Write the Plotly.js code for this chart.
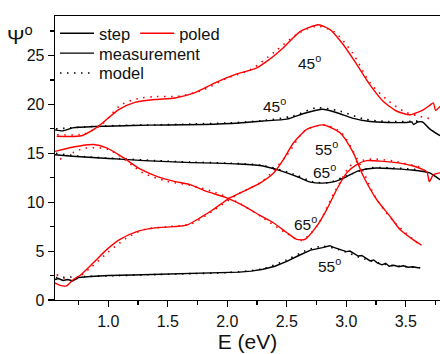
<!DOCTYPE html>
<html>
<head>
<meta charset="utf-8">
<script src="https://cdn.plot.ly/plotly-3.0.1.min.js"></script>
<style>
  html, body { margin: 0; padding: 0; background: #fff; }
  #chart { width: 440px; height: 354px; }
</style>
</head>
<body>
<div id="chart"></div>
<script>
// Ellipsometric angle Psi vs photon energy, step vs poled sample, three incidence angles

// --- step sample, measured ---
const stepE45 = [0.552, 0.62, 0.70, 0.90, 1.20, 1.50, 1.80, 2.10, 2.30, 2.50, 2.65, 2.80, 2.92, 3.05, 3.20, 3.35, 3.50, 3.55, 3.565, 3.60, 3.64, 3.70, 3.787];
const stepPsi45 = [17.4, 17.3, 17.6, 17.75, 17.85, 17.9, 17.95, 18.1, 18.3, 18.5, 19.1, 19.5, 19.15, 18.6, 18.25, 18.15, 18.15, 18.2, 17.95, 18.2, 18.2, 17.5, 16.8];

const stepE65 = [0.552, 0.70, 0.90, 1.10, 1.30, 1.50, 1.70, 1.90, 2.10, 2.30, 2.45, 2.60, 2.70, 2.80, 2.90, 3.00, 3.10, 3.25, 3.40, 3.55, 3.70, 3.787];
const stepPsi65 = [14.85, 14.7, 14.55, 14.4, 14.25, 14.15, 14.05, 14.0, 13.9, 13.7, 13.2, 12.55, 12.05, 11.95, 12.1, 12.6, 13.2, 13.5, 13.42, 13.3, 13.0, 12.3];

const stepE55 = [0.552, 0.58, 0.62, 0.66, 0.70, 0.75, 0.85, 1.00, 1.20, 1.40, 1.60, 1.80, 2.00, 2.10, 2.20, 2.30, 2.40, 2.50, 2.60, 2.70, 2.80, 2.86, 2.90, 2.95, 3.00, 3.03, 3.06, 3.10, 3.13, 3.16, 3.20, 3.23, 3.26, 3.30, 3.33, 3.36, 3.40, 3.44, 3.48, 3.52, 3.56, 3.60, 3.62];
const stepPsi55 = [2.1, 2.2, 2.0, 2.1, 1.95, 2.3, 2.4, 2.5, 2.55, 2.6, 2.65, 2.72, 2.78, 2.85, 2.95, 3.15, 3.45, 3.95, 4.55, 5.1, 5.35, 5.55, 5.35, 5.15, 4.95, 5.0, 4.75, 4.5, 4.55, 4.3, 4.0, 4.1, 3.8, 3.6, 3.75, 3.45, 3.55, 3.4, 3.5, 3.35, 3.4, 3.3, 3.3];

// --- poled sample, measured ---
const poledE45 = [0.566, 0.776, 0.916, 1.084, 1.224, 1.392, 1.560, 1.728, 1.896, 2.064, 2.233, 2.331, 2.471, 2.611, 2.765, 2.863, 2.975, 3.087, 3.199, 3.311, 3.424, 3.535, 3.647, 3.70, 3.731, 3.75, 3.787];
const poledPsi45 = [16.75, 16.8, 17.75, 19.45, 20.2, 20.5, 20.65, 21.2, 22.2, 23.05, 23.65, 24.4, 25.8, 27.45, 28.15, 27.65, 26.1, 24.1, 22.0, 20.3, 19.3, 18.95, 19.45, 19.9, 20.15, 19.4, 19.8];

const poledE55 = [0.552, 0.594, 0.650, 0.706, 0.762, 0.874, 0.986, 1.098, 1.239, 1.378, 1.546, 1.659, 1.770, 1.882, 2.008, 2.134, 2.275, 2.387, 2.471, 2.555, 2.667, 2.807, 2.947, 3.059, 3.143, 3.256, 3.367, 3.451, 3.563, 3.633];
const poledPsi55 = [1.75, 1.5, 1.45, 2.1, 2.5, 3.8, 5.15, 6.2, 7.0, 7.35, 7.5, 7.65, 8.4, 9.25, 10.35, 11.1, 11.95, 12.95, 14.35, 16.05, 17.45, 17.9, 17.1, 15.05, 12.65, 10.25, 8.55, 7.2, 6.15, 5.6];

const poledE65 = [0.552, 0.706, 0.874, 0.986, 1.126, 1.266, 1.407, 1.546, 1.686, 1.827, 1.995, 2.134, 2.275, 2.387, 2.499, 2.583, 2.653, 2.751, 2.835, 2.919, 3.003, 3.087, 3.171, 3.283, 3.451, 3.563, 3.676, 3.697, 3.731, 3.787];
const poledPsi65 = [15.2, 15.65, 15.9, 15.55, 14.55, 13.4, 12.65, 12.15, 11.8, 11.1, 10.45, 9.65, 8.65, 7.9, 6.9, 6.2, 6.2, 7.55, 9.25, 11.3, 13.0, 13.85, 14.25, 14.2, 14.0, 13.7, 13.1, 12.1, 12.8, 13.0];

// --- model fits ---
const modelStepE45 = [0.56, 0.80, 1.10, 1.40, 1.70, 2.00, 2.30, 2.55, 2.75, 2.95, 3.15, 3.35, 3.62];
const modelStepPsi45 = [17.5, 17.7, 17.85, 17.9, 18.0, 18.1, 18.35, 18.8, 19.65, 19.3, 18.5, 18.25, 18.3];

const modelStepE65 = [0.56, 0.80, 1.10, 1.40, 1.70, 2.00, 2.30, 2.55, 2.72, 2.85, 3.00, 3.20, 3.40, 3.62];
const modelStepPsi65 = [15.0, 14.65, 14.45, 14.25, 14.1, 14.0, 13.75, 12.9, 12.1, 12.0, 12.7, 13.5, 13.5, 13.3];

const modelStepE55 = [0.56, 0.80, 1.10, 1.40, 1.70, 2.00, 2.30, 2.50, 2.65, 2.80, 2.95, 3.15, 3.35, 3.62];
const modelStepPsi55 = [2.3, 2.4, 2.5, 2.6, 2.7, 2.8, 3.2, 4.1, 5.0, 5.5, 5.1, 4.2, 3.6, 3.3];

const modelPoledE45 = [0.57, 0.80, 0.95, 1.10, 1.25, 1.40, 1.60, 1.80, 2.00, 2.20, 2.40, 2.60, 2.75, 2.90, 3.05, 3.20, 3.35, 3.50, 3.72];
const modelPoledPsi45 = [16.9, 17.0, 18.0, 19.9, 20.6, 20.8, 20.85, 21.5, 22.7, 23.6, 25.4, 27.3, 28.0, 27.4, 25.3, 22.2, 20.4, 19.2, 18.5];

const modelPoledE55 = [0.566, 0.70, 0.85, 1.00, 1.15, 1.30, 1.50, 1.70, 1.90, 2.10, 2.30, 2.50, 2.65, 2.80, 2.95, 3.10, 3.25, 3.40, 3.62];
const modelPoledPsi55 = [2.6, 2.0, 3.3, 4.9, 6.3, 7.2, 7.5, 7.8, 9.3, 10.9, 12.2, 14.8, 17.3, 17.9, 17.2, 14.2, 10.4, 8.0, 5.6];

const modelPoledE65 = [0.594, 0.80, 1.00, 1.21, 1.29, 1.49, 1.70, 1.90, 2.10, 2.30, 2.50, 2.62, 2.75, 2.90, 3.05, 3.20, 3.40, 3.62];
const modelPoledPsi65 = [14.4, 15.5, 15.4, 13.7, 13.0, 12.15, 11.7, 11.0, 9.9, 8.4, 6.8, 6.1, 7.5, 11.0, 13.9, 14.4, 14.2, 13.6];

// angle labels
const labelText = ['45<sup>o</sup>', '45<sup>o</sup>', '55<sup>o</sup>', '65<sup>o</sup>', '65<sup>o</sup>', '55<sup>o</sup>'];
const labelE = [2.69, 2.40, 2.83, 2.82, 2.66, 2.86];
const labelPsi = [24.3, 19.9, 15.5, 13.2, 7.9, 3.6];

const BLACK = '#000000';
const RED = '#ff0000';
const DOT = '1.5px,5.5px';

function meas(x, y, color, extra) {
  return Object.assign({
    x: x, y: y, type: 'scatter', mode: 'lines',
    line: {color: color, width: 1.4, shape: 'spline', smoothing: 0.6},
    showlegend: false, hoverinfo: 'skip'
  }, extra || {});
}
function model(x, y, color, extra) {
  return Object.assign({
    x: x, y: y, type: 'scatter', mode: 'lines',
    line: {color: color, width: 1.6, dash: DOT, shape: 'spline', smoothing: 0.8},
    showlegend: false, hoverinfo: 'skip'
  }, extra || {});
}

const traces = [
  model(modelStepE45, modelStepPsi45, BLACK, {name: 'model', showlegend: true, legend: 'legend3'}),
  model(modelStepE65, modelStepPsi65, BLACK),
  model(modelStepE55, modelStepPsi55, BLACK),
  model(modelPoledE45, modelPoledPsi45, RED),
  model(modelPoledE55, modelPoledPsi55, RED),
  model(modelPoledE65, modelPoledPsi65, RED),
  meas(stepE45, stepPsi45, BLACK, {name: 'step', showlegend: true, legend: 'legend'}),
  meas(stepE65, stepPsi65, BLACK, {name: 'measurement', showlegend: true, legend: 'legend2'}),
  meas(stepE55, stepPsi55, BLACK, {line: {color: BLACK, width: 1.4, shape: 'linear'}}),
  meas(poledE45, poledPsi45, RED, {name: 'poled', showlegend: true, legend: 'legend'}),
  meas(poledE55, poledPsi55, RED),
  meas(poledE65, poledPsi65, RED)
];

const FONT = 'Liberation Sans, Arial, sans-serif';
const legendCommon = {
  xref: 'paper', yref: 'paper', xanchor: 'left', yanchor: 'top',
  bgcolor: 'rgba(0,0,0,0)', borderwidth: 0,
  font: {family: FONT, size: 16.5, color: '#111'},
  tracegroupgap: 0, itemwidth: 34
};

const annotations = labelText.map((t, i) => ({
  x: labelE[i], y: labelPsi[i], xref: 'x', yref: 'y', text: t,
  showarrow: false, font: {family: FONT, size: 15.5, color: '#111'}
}));

const layout = {
  width: 440, height: 354,
  margin: {l: 55, r: 0, t: 16, b: 54},
  paper_bgcolor: '#fff', plot_bgcolor: '#fff',
  font: {family: FONT, size: 16, color: '#111'},
  // y-axis quantity, written horizontally above the axis
  title: {
    text: 'Ψ<sup>o</sup>', xref: 'container', yref: 'container',
    x: 7 / 440, xanchor: 'left', y: 1 - 29 / 354, yanchor: 'top',
    pad: {t: 0, b: 0, l: 0, r: 0},
    font: {family: FONT, size: 21, color: '#111'}
  },
  xaxis: {
    range: [0.552, 3.787], tickvals: [1.0, 1.5, 2.0, 2.5, 3.0, 3.5],
    ticktext: ['1.0', '1.5', '2.0', '2.5', '3.0', '3.5'],
    ticks: 'outside', ticklen: 6, tickwidth: 1.2, tickcolor: '#000',
    minor: {ticks: 'outside', tickvals: [0.75, 1.25, 1.75, 2.25, 2.75, 3.25, 3.75], ticklen: 3.5, tickwidth: 1.2, tickcolor: '#000', showgrid: false},
    showline: true, linecolor: '#000', linewidth: 1.3, mirror: true,
    showgrid: false, zeroline: false,
    tickfont: {family: FONT, size: 16, color: '#111'},
    title: {text: 'E (eV)', font: {family: FONT, size: 21, color: '#111'}, standoff: 5}
  },
  yaxis: {
    range: [0, 29.04], tickvals: [0, 5, 10, 15, 20, 25],
    ticks: 'outside', ticklen: 6, tickwidth: 1.2, tickcolor: '#000',
    minor: {ticks: 'outside', tickvals: [2.5, 7.5, 12.5, 17.5, 22.5, 27.5], ticklen: 3.5, tickwidth: 1.2, tickcolor: '#000', showgrid: false},
    showline: true, linecolor: '#000', linewidth: 1.3,
    showgrid: false, zeroline: false,
    tickfont: {family: FONT, size: 16, color: '#111'}
  },
  legend: Object.assign({}, legendCommon, {x: 0.0, y: 1.0, orientation: 'h'}),
  legend2: Object.assign({}, legendCommon, {x: 0.0, y: 0.93}),
  legend3: Object.assign({}, legendCommon, {x: 0.0, y: 0.86}),
  annotations: annotations,
  showlegend: true
};

Plotly.newPlot('chart', traces, layout, {displayModeBar: false, staticPlot: true});
</script>
</body>
</html>
